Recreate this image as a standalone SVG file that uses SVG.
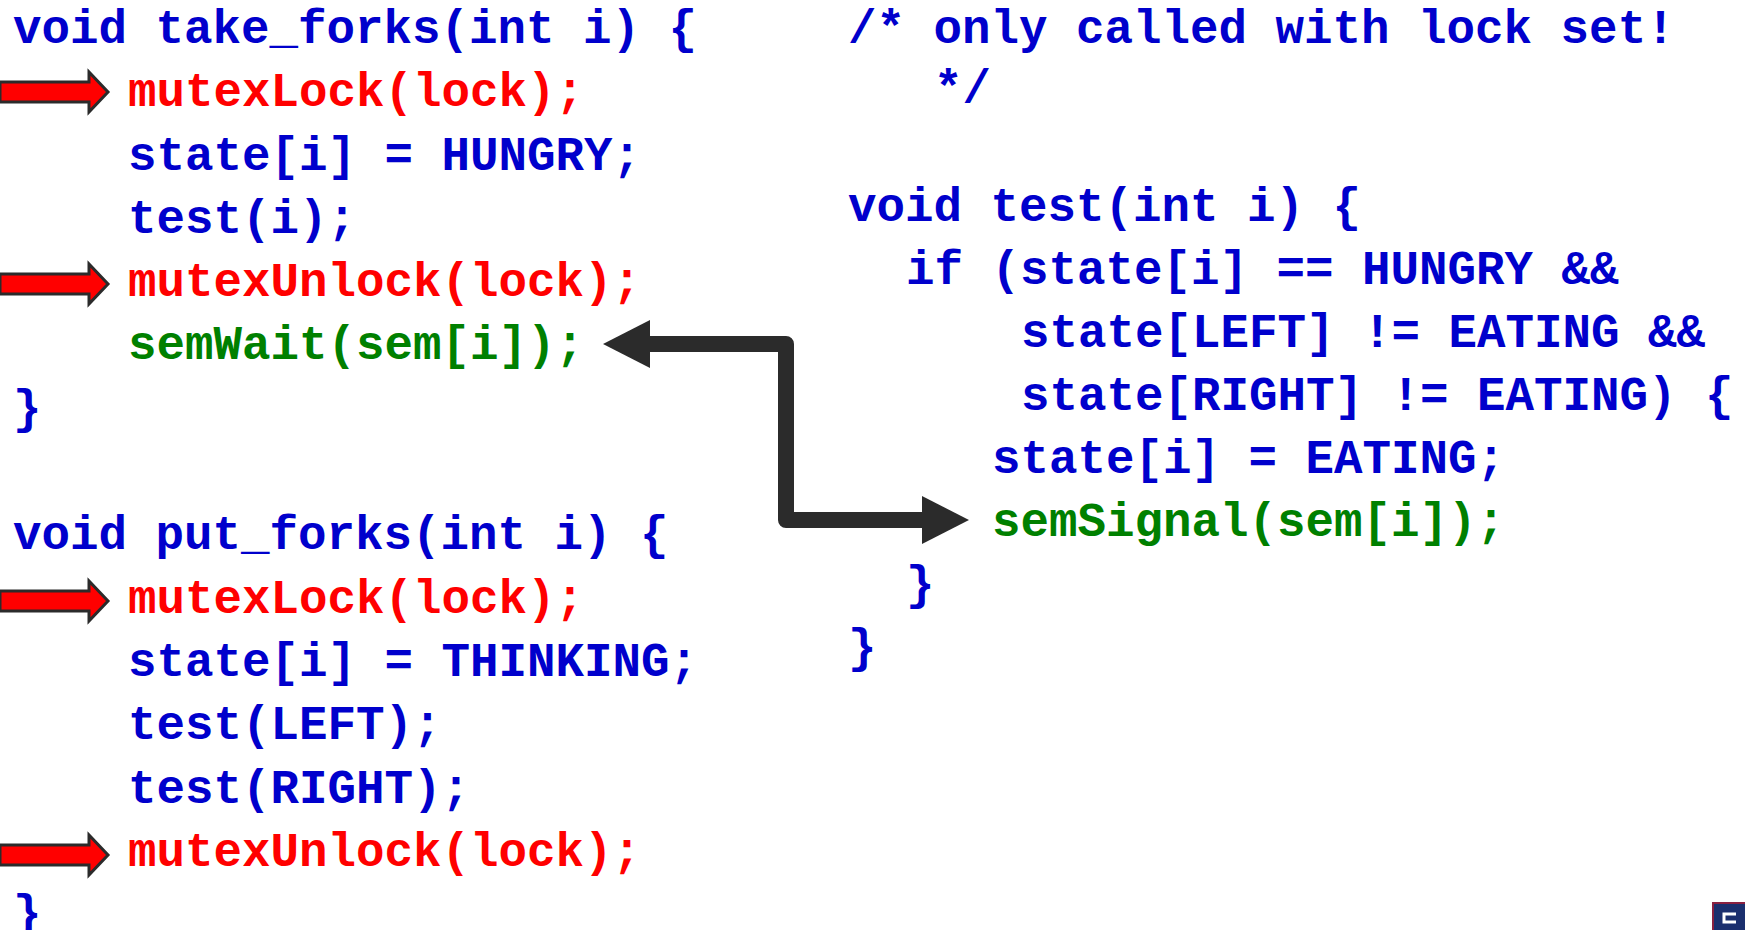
<svg xmlns="http://www.w3.org/2000/svg" width="1745" height="930" viewBox="0 0 1745 930">
<style>
text{font-family:"Liberation Mono","Courier New",monospace;font-weight:bold;font-size:47.5px;white-space:pre}
.b{fill:#0000CC}
.r{fill:#FF0000}
.g{fill:#008000}
.ra{fill:#FF0000;stroke:#2B2B2B;stroke-width:3;stroke-linejoin:miter}
.conn{fill:none;stroke:#2B2B2B;stroke-width:16;stroke-linejoin:round}
.head{fill:#2B2B2B}
</style>
<defs>
<polygon id="redArrow" class="ra" points="0,-10 89,-10 89,-20 108,0 89,20 89,10 0,10"/>
</defs>
<rect width="1745" height="930" fill="#FFFFFF"/>
<g id="take_forks">
<text class="b" x="13" y="43">void take_forks(int i) {</text>
<text class="r" x="128" y="106">mutexLock(lock);</text>
<text class="b" x="128" y="170">state[i] = HUNGRY;</text>
<text class="b" x="128" y="233">test(i);</text>
<text class="r" x="128" y="296">mutexUnlock(lock);</text>
<text class="g" x="128" y="359">semWait(sem[i]);</text>
<text class="b" x="13" y="423">}</text>
</g>
<g id="put_forks">
<text class="b" x="13" y="549">void put_forks(int i) {</text>
<text class="r" x="128" y="613">mutexLock(lock);</text>
<text class="b" x="128" y="676">state[i] = THINKING;</text>
<text class="b" x="128" y="739">test(LEFT);</text>
<text class="b" x="128" y="803">test(RIGHT);</text>
<text class="r" x="128" y="866">mutexUnlock(lock);</text>
<text class="b" x="13" y="928">}</text>
</g>
<g id="test_fn">
<text class="b" x="848" y="43">/* only called with lock set!</text>
<text class="b" x="934" y="103">*/</text>
<text class="b" x="848" y="221">void test(int i) {</text>
<text class="b" x="906" y="284">if (state[i] == HUNGRY &amp;&amp;</text>
<text class="b" x="1021" y="347">state[LEFT] != EATING &amp;&amp;</text>
<text class="b" x="1021" y="410">state[RIGHT] != EATING) {</text>
<text class="b" x="992" y="473">state[i] = EATING;</text>
<text class="g" x="992" y="536">semSignal(sem[i]);</text>
<text class="b" x="906" y="599">}</text>
<text class="b" x="848" y="662">}</text>
</g>
<g id="lock_markers">
<use href="#redArrow" x="0" y="92"/>
<use href="#redArrow" x="0" y="284"/>
<use href="#redArrow" x="0" y="601"/>
<use href="#redArrow" x="0" y="855"/>
</g>
<g id="connectors">
<path class="conn" d="M 645 344 H 786 V 520 H 924"/>
<polygon class="head" points="603,344 650,320 650,368"/>
<polygon class="head" points="969,520 922,496 922,544"/>
</g>
<g id="logo">
<rect x="1713" y="903" width="34" height="30" fill="#1B2F6E" stroke="#8A2040" stroke-width="2"/>
<path d="M1736 914 h-12 v8 h12" fill="none" stroke="#FFFFFF" stroke-width="3"/>
</g>
</svg>
